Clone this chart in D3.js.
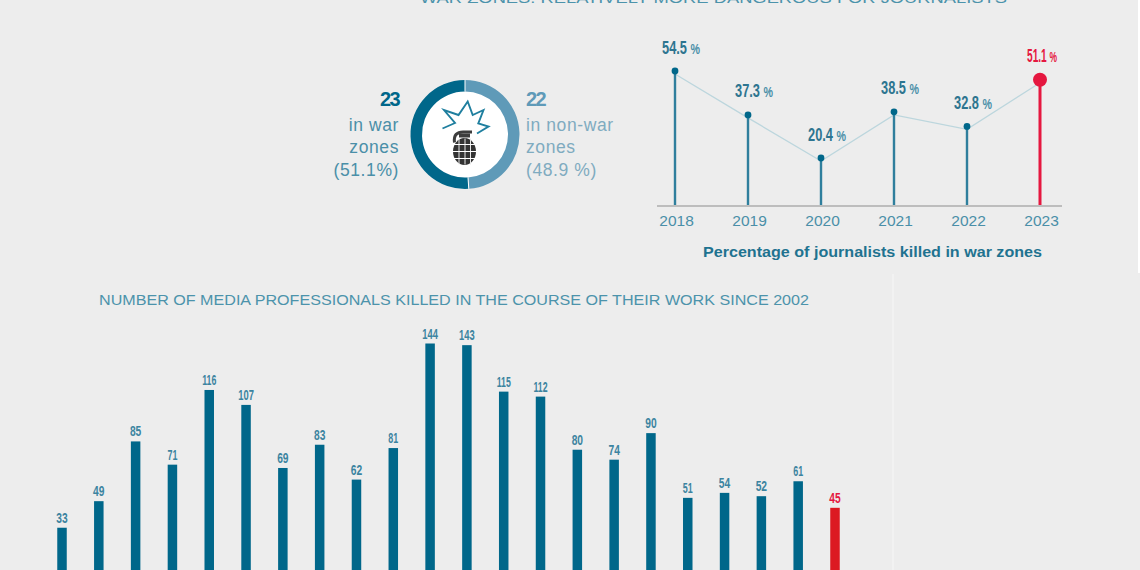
<!DOCTYPE html>
<html>
<head>
<meta charset="utf-8">
<script src="https://cdn.jsdelivr.net/npm/d3@7/dist/d3.min.js"></script>
<style>
  html, body { margin: 0; padding: 0; background: #ededed; }
  svg { display: block; }
  text { font-family: "Liberation Sans", Arial, sans-serif; }
</style>
</head>
<body>
<svg id="chart" width="1140" height="570"></svg>
<script>
// Yearly count of media professionals killed
const years = d3.range(2002, 2024);
const killed = [33, 49, 85, 71, 116, 107, 69, 83, 62, 81, 144, 143, 115, 112, 80, 74, 90, 51, 54, 52, 61, 45];

// Share of journalists killed in war zones
const warYears = [2018, 2019, 2020, 2021, 2022, 2023];
const warShare = [54.5, 37.3, 20.4, 38.5, 32.8, 51.1];
const warShareLabels = ["54.5", "37.3", "20.4", "38.5", "32.8", "51.1"];

// 2023 split between war and non-war zones
const splitCounts = [23, 22];
const splitNames = ["war", "non-war"];

const headline = "WAR ZONES: RELATIVELY MORE DANGEROUS FOR JOURNALISTS";
const barsTitle = "NUMBER OF MEDIA PROFESSIONALS KILLED IN THE COURSE OF THEIR WORK SINCE 2002";
const lineCaption = "Percentage of journalists killed in war zones";

const DEEP = "#00678a", MID = "#2f7f9d", SOFT = "#5f9ab8", TEXT = "#4c93ab",
      RED = "#e5173f", BAR_RED = "#dc1a22", LINK = "#bcd6dd";

const svg = d3.select("#chart");

// Width of a condensed numeral string: the figure 1 and the point set tighter than other digits
const condensedWidth = (str, digit, one, point) =>
  Array.from(str).reduce((w, c) => w + (c === "1" ? one : c === "." ? point : digit), 0);

// Page furniture: white margin strip and faint divider
svg.append("rect").attr("x", 1138).attr("y", 0).attr("width", 2).attr("height", 273).attr("fill", "#ffffff");
svg.append("line").attr("x1", 893).attr("x2", 893).attr("y1", 274).attr("y2", 570)
  .attr("stroke", "#f5f5f5").attr("stroke-width", 1.2);

// Headline runs off the top edge
svg.append("text").attr("x", 713.5).attr("y", 3).attr("text-anchor", "middle")
  .attr("fill", TEXT).attr("font-size", 15.5).attr("textLength", 587).attr("lengthAdjust", "spacingAndGlyphs")
  .text(headline);

/* ---------- Donut ---------- */
const donut = svg.append("g").attr("transform", "translate(465,134.5)");
donut.append("circle").attr("r", 44).attr("fill", "#ffffff");
const pie = d3.pie().sort(null).startAngle(0).endAngle(-2 * Math.PI);
const ring = d3.arc().innerRadius(43).outerRadius(54.5);
donut.selectAll("path.ring").data(pie(splitCounts)).join("path")
  .attr("class", "ring")
  .attr("d", ring)
  .attr("fill", (d, i) => i === 0 ? DEEP : SOFT);
donut.selectAll("line.gap").data(pie(splitCounts)).join("line")
  .attr("class", "gap")
  .attr("x1", d => 43 * Math.sin(d.startAngle)).attr("y1", d => -43 * Math.cos(d.startAngle))
  .attr("x2", d => 54.5 * Math.sin(d.startAngle)).attr("y2", d => -54.5 * Math.cos(d.startAngle))
  .attr("stroke", "#ffffff").attr("stroke-width", 1);

// Grenade pictogram in the centre of the ring
const icon = donut.append("g");
icon.append("path")
  .attr("d", "M-22.5,-6 L-10,-11.5 L-21,-24.5 L-6.5,-19.5 L2.7,-33 L7.7,-19.5 L18.5,-24.5 L13.3,-11 L23.5,-8 L12,-1")
  .attr("fill", "none").attr("stroke", "#1f7f9f").attr("stroke-width", 1.9).attr("stroke-linejoin", "miter");
icon.append("path")
  .attr("d", "M-10.5,8 Q-12,-3 -1,-2.5 L7,-2.5")
  .attr("fill", "none").attr("stroke", "#3d3d3d").attr("stroke-width", 3);
icon.append("rect").attr("x", -6).attr("y", -1).attr("width", 11).attr("height", 4).attr("fill", "#3d3d3d");
const shell = icon.append("g");
shell.append("ellipse").attr("cx", -0.5).attr("cy", 17).attr("rx", 11.5).attr("ry", 13.5).attr("fill", "#333333");
[-6, 0, 5.5].forEach(dx => shell.append("line").attr("x1", dx).attr("x2", dx).attr("y1", 4).attr("y2", 30)
  .attr("stroke", "#e8e8e8").attr("stroke-width", 1));
[10, 17, 24].forEach(cy => shell.append("line").attr("x1", -12).attr("x2", 11).attr("y1", cy).attr("y2", cy)
  .attr("stroke", "#ffffff").attr("stroke-width", 1));

// Donut captions
const pct = splitCounts.map(v => v / d3.sum(splitCounts) * 100);
const leftLines = ["in " + splitNames[0], "zones", "(" + pct[0].toFixed(1) + "%)"];
const rightLines = ["in " + splitNames[1], "zones", "(" + pct[1].toFixed(1) + " %)"];
svg.append("text").attr("x", 399).attr("y", 106).attr("text-anchor", "end").attr("fill", DEEP)
  .attr("font-size", 20).attr("font-weight", 700).attr("letter-spacing", -1.6).text(splitCounts[0]);
svg.append("text").attr("x", 526).attr("y", 106).attr("fill", SOFT)
  .attr("font-size", 20).attr("font-weight", 700).attr("letter-spacing", -1.6).text(splitCounts[1]);
leftLines.forEach((t, i) => svg.append("text").attr("x", 399).attr("y", 130.5 + i * 22.5).attr("text-anchor", "end")
  .attr("fill", "#4a8fa8").attr("font-size", 17.5).attr("letter-spacing", 0.6).text(t));
rightLines.forEach((t, i) => svg.append("text").attr("x", 526).attr("y", 130.5 + i * 22.5)
  .attr("fill", "#7fabc0").attr("font-size", 17.5).attr("letter-spacing", 0.6).text(t));

/* ---------- Lollipop line: share in war zones ---------- */
const lx = d3.scalePoint().domain(warYears).range([675, 1040]);
const ly = d3.scaleLinear().domain([1.6, 54.5]).range([206, 71]);
const lollipop = warYears.map((year, i) => ({ year, value: warShare[i], label: warShareLabels[i] }));
const isLast = d => d.year === 2023;

svg.append("path").datum(lollipop)
  .attr("transform", "translate(0,3)")
  .attr("fill", "none").attr("stroke", LINK).attr("stroke-width", 1.3)
  .attr("d", d3.line().x(d => lx(d.year)).y(d => ly(d.value)));

svg.append("line").attr("x1", 657).attr("x2", 1062).attr("y1", 206).attr("y2", 206)
  .attr("stroke", "#bdbdbd").attr("stroke-width", 2);

svg.selectAll("line.stem").data(lollipop).join("line")
  .attr("class", "stem")
  .attr("x1", d => lx(d.year)).attr("x2", d => lx(d.year))
  .attr("y1", 205).attr("y2", d => ly(d.value))
  .attr("stroke", d => isLast(d) ? RED : MID)
  .attr("stroke-width", d => isLast(d) ? 3 : 2.4);

svg.selectAll("circle.dot").data(lollipop).join("circle")
  .attr("class", "dot")
  .attr("cx", d => lx(d.year)).attr("cy", d => ly(d.value))
  .attr("r", d => isLast(d) ? 7 : 3.4)
  .attr("fill", d => isLast(d) ? RED : DEEP);

// Value and percent sign share one condensed text run
const shareLabels = svg.selectAll("text.share").data(lollipop).join("text")
  .attr("class", "share")
  .attr("x", d => lx(d.year) - 13).attr("y", d => ly(d.value) - 17.5)
  .attr("fill", d => isLast(d) ? RED : "#2d7590")
  .attr("font-size", 18).attr("font-weight", 700)
  .attr("textLength", d => condensedWidth(d.label, 7.8, 3.8, 3.6) + 11)
  .attr("lengthAdjust", "spacingAndGlyphs");
shareLabels.append("tspan").text(d => d.label + " ");
shareLabels.append("tspan").attr("font-size", 15)
  .attr("fill", d => isLast(d) ? RED : "#4a8fa8").text("%");

const lineAxis = svg.append("g").attr("transform", "translate(1,206)")
  .call(d3.axisBottom(lx).tickSize(0).tickPadding(9).tickFormat(d3.format("d")));
lineAxis.select(".domain").remove();
lineAxis.selectAll("text").attr("fill", "#4a8fa8").attr("font-size", 15.5)
  .attr("font-family", "'Liberation Sans', Arial, sans-serif");

svg.append("text").attr("x", 872.5).attr("y", 257).attr("text-anchor", "middle")
  .attr("fill", "#1f7390").attr("font-size", 14.5).attr("font-weight", 700)
  .attr("textLength", 339).attr("lengthAdjust", "spacingAndGlyphs").text(lineCaption);

/* ---------- Bars: yearly totals ---------- */
svg.append("text").attr("x", 99).attr("y", 305).attr("fill", TEXT).attr("font-size", 14.5)
  .attr("textLength", 710).attr("lengthAdjust", "spacingAndGlyphs").text(barsTitle);

const bx = d3.scaleBand().domain(years).range([43.6, 853.4]).paddingInner(0.742).paddingOuter(0.371);
const by = d3.scaleLinear().domain([0, 144]).range([582.5, 343.5]);
const bars = years.map((year, i) => ({ year, value: killed[i] }));

svg.selectAll("rect.bar").data(bars).join("rect")
  .attr("class", "bar")
  .attr("x", d => bx(d.year)).attr("width", bx.bandwidth())
  .attr("y", d => by(d.value)).attr("height", d => by(0) - by(d.value))
  .attr("fill", d => d.year === 2023 ? BAR_RED : DEEP);

svg.selectAll("text.count").data(bars).join("text")
  .attr("class", "count")
  .attr("x", d => bx(d.year) + bx.bandwidth() / 2).attr("y", d => by(d.value) - 5)
  .attr("text-anchor", "middle")
  .attr("fill", d => d.year === 2023 ? RED : "#3c84a0")
  .attr("font-size", 14).attr("font-weight", 700)
  .attr("textLength", d => condensedWidth(String(d.value), 5.7, 4.2, 0))
  .attr("lengthAdjust", "spacingAndGlyphs")
  .text(d => d.value);
</script>
</body>
</html>
